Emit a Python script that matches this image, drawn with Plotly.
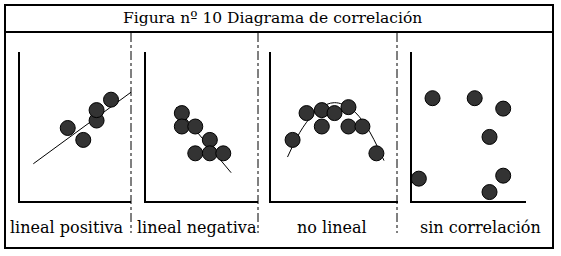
import plotly.graph_objects as go

W, H = 561, 256

title_text = "Figura nº 10 Diagrama de correlación"
panel_labels = ["lineal positiva", "lineal negativa", "no lineal", "sin correlación"]

# Panel 1: positive linear
pos_x = [4.3, 5.7, 6.9, 6.9, 8.2]
pos_y = [4.9, 4.1, 5.4, 6.1, 6.8]
pos_line_x = [1.2, 10.0]
pos_line_y = [2.5, 7.3]

# Panel 2: negative linear
neg_x = [3.2, 3.2, 4.4, 5.7, 4.4, 5.7, 6.9]
neg_y = [5.9, 5.0, 5.0, 4.1, 3.2, 3.2, 3.2]
neg_line_x = [2.7, 7.6]
neg_line_y = [6.3, 1.9]

# Panel 3: non linear
nl_x = [1.7, 2.8, 4.0, 4.0, 5.0, 6.1, 6.1, 7.2, 8.3]
nl_y = [4.1, 5.9, 6.1, 5.0, 5.9, 6.3, 5.0, 5.0, 3.2]
nl_curve_x = [1.3, 2.5, 3.8, 5.0, 6.3, 7.5, 8.9]
nl_curve_y = [2.95, 4.92, 6.2, 6.6, 6.19, 5.02, 2.71]

# Panel 4: no correlation
nc_x = [1.8, 5.5, 8.0, 6.8, 0.6, 8.0, 6.8]
nc_y = [6.9, 6.9, 6.2, 4.3, 1.5, 1.7, 0.6]

def px(x):
    return x / W

def py(y):
    return 1 - y / H

# axis pixel extents (left, right) and shared vertical extent
panels_x = [(20, 131), (146, 258), (271, 398), (412, 526)]
y_top, y_bot = 52, 201

FONT = "DejaVu Serif"
fig = go.Figure()

marker = dict(size=15, color="#333333", line=dict(color="#000000", width=1))
line_style = dict(color="black", width=1)

data = [
    (pos_x, pos_y, pos_line_x, pos_line_y, "linear"),
    (neg_x, neg_y, neg_line_x, neg_line_y, "linear"),
    (nl_x, nl_y, nl_curve_x, nl_curve_y, "spline"),
    (nc_x, nc_y, None, None, None),
]

layout_axes = {}
for i, (xs, ys, lx, ly, shape) in enumerate(data):
    n = i + 1
    xa = "x" if n == 1 else f"x{n}"
    ya = "y" if n == 1 else f"y{n}"
    if lx is not None:
        fig.add_trace(go.Scatter(x=lx, y=ly, mode="lines", line=dict(line_style, shape=shape),
                                 xaxis=xa, yaxis=ya, showlegend=False, hoverinfo="skip",
                                 cliponaxis=False))
    fig.add_trace(go.Scatter(x=xs, y=ys, mode="markers", marker=marker,
                             xaxis=xa, yaxis=ya, showlegend=False, cliponaxis=False))
    x0, x1 = panels_x[i]
    common = dict(showgrid=False, zeroline=False, showticklabels=False, ticks="",
                  showline=True, linecolor="black", linewidth=1.5, mirror=False, fixedrange=True)
    layout_axes["xaxis" if n == 1 else f"xaxis{n}"] = dict(
        common, domain=[px(x0), px(x1)], range=[0, 10], anchor=ya)
    layout_axes["yaxis" if n == 1 else f"yaxis{n}"] = dict(
        common, domain=[py(y_bot), py(y_top)], range=[0, 10], anchor=xa)

shapes = [
    dict(type="rect", xref="paper", yref="paper", x0=px(5), x1=px(553), y0=py(248), y1=py(5),
         line=dict(color="black", width=2)),
    dict(type="line", xref="paper", yref="paper", x0=px(5), x1=px(553), y0=py(32), y1=py(32),
         line=dict(color="black", width=2)),
]
for xd in [131, 258, 397]:
    shapes.append(dict(type="line", xref="paper", yref="paper", x0=px(xd), x1=px(xd),
                       y0=py(33), y1=py(233), line=dict(color="black", width=1, dash="dashdot")))

annotations = [dict(text=title_text, xref="paper", yref="paper", x=px(272), y=py(18),
                    showarrow=False, font=dict(family=FONT, size=15.5, color="black"),
                    xanchor="center", yanchor="middle")]
label_x = [67, 197, 332, 480]
for lx_, t in zip(label_x, panel_labels):
    annotations.append(dict(text=t, xref="paper", yref="paper", x=px(lx_), y=py(227),
                            showarrow=False, font=dict(family=FONT, size=16, color="black"),
                            xanchor="center", yanchor="middle"))

fig.update_layout(width=W, height=H, margin=dict(l=0, r=0, t=0, b=0),
                  paper_bgcolor="white", plot_bgcolor="white",
                  shapes=shapes, annotations=annotations, **layout_axes)

fig.write_html("out.html", config={"displayModeBar": False})
